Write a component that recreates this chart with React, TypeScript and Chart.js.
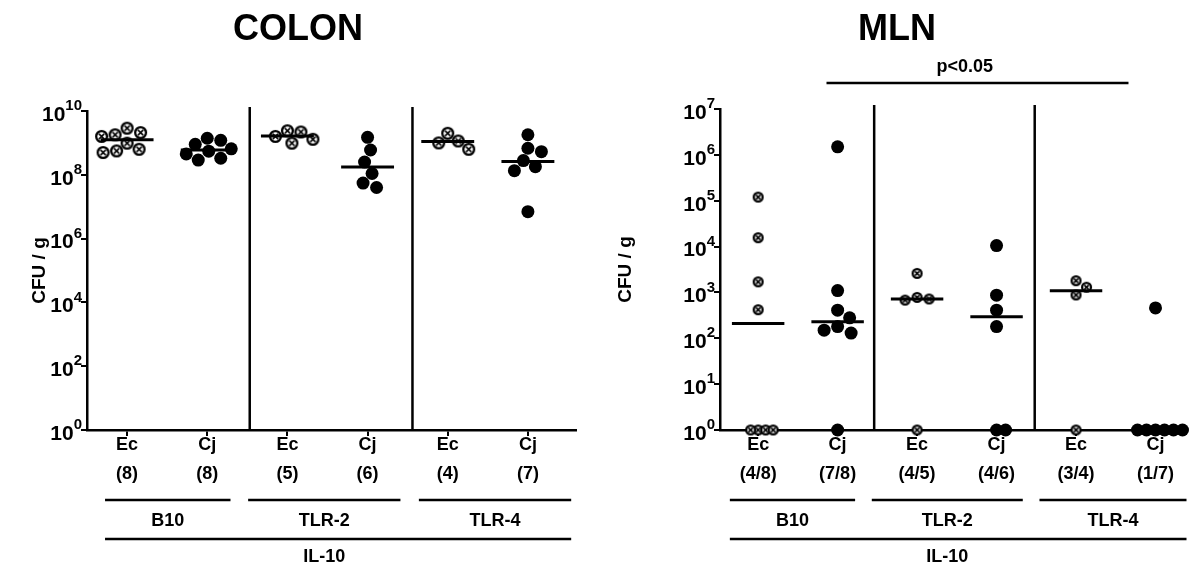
import React, { useEffect, useRef } from "react";
import { Chart, registerables } from "chart.js";
Chart.register(...registerables);

const FONT = "'Liberation Sans', Arial, Helvetica, sans-serif";

// ---------------- data ----------------
const strains = ["Ec", "Cj", "Ec", "Cj", "Ec", "Cj"];
const colonN = ["(8)", "(8)", "(5)", "(6)", "(4)", "(7)"];
const mlnN = ["(4/8)", "(7/8)", "(4/5)", "(4/6)", "(3/4)", "(1/7)"];
const mouseGroups = ["B10", "TLR-2", "TLR-4"];
const background = "IL-10";
const crossedGroups = [true, false, true, false, true, false];
const yAxisTitle = "CFU / g";
const significance = "p<0.05";

const colonB10Ec = [2.9e9, 1.8e9, 2.1e9, 1.6e9, 9.8e8, 6.3e8, 5.0e8, 5.6e8];
const colonB10Cj = [1.4e9, 1.2e9, 9e8, 6.5e8, 5.5e8, 4.5e8, 3.3e8, 2.9e8];
const colonTLR2Ec = [2.4e9, 2.2e9, 1.6e9, 1.3e9, 9.8e8];
const colonTLR2Cj = [1.5e9, 6e8, 2.5e8, 1.1e8, 5.5e7, 4e7];
const colonTLR4Ec = [2e9, 1.15e9, 1e9, 6.3e8];
const colonTLR4Cj = [1.8e9, 6.8e8, 5.3e8, 2.8e8, 1.8e8, 1.35e8, 7e6];
const colonMedians = [1.25e9, 6e8, 1.65e9, 1.75e8, 1.1e9, 2.6e8];
const colonExponents = [0, 2, 4, 6, 8, 10];

const mlnB10Ec = [1.2e5, 1.56e4, 1.7e3, 4.2e2, 1, 1, 1, 1];
const mlnB10Cj = [1.5e6, 1.1e3, 4.1e2, 2.8e2, 1.8e2, 1.5e2, 1.3e2, 1];
const mlnTLR2Ec = [2.6e3, 7.8e2, 7.2e2, 6.8e2, 1];
const mlnTLR2Cj = [1.05e4, 8.7e2, 4.1e2, 1.8e2, 1, 1];
const mlnTLR4Ec = [1.8e3, 1.3e3, 8.8e2, 1];
const mlnTLR4Cj = [4.6e2, 1, 1, 1, 1, 1, 1];
const mlnMedians: (number | null)[] = [210, 230, 720, 295, 1090, null];
const mlnExponents = [0, 1, 2, 3, 4, 5, 6, 7];

// ---------------- panel specs (layout) ----------------
type Spec = {
  title: string;
  titleX: number;
  yTitleX: number;
  groups: number[][];
  medians: (number | null)[];
  counts: string[];
  exps: number[];
  xMin: number;
  xMax: number;
  yWidth: number;
  padTop: number;
  padRight: number;
  canvasWidth: number;
  filledR: number;
  crossR: number;
  swarm: number;
  separators: number[];
  groupSpans: [number, number][];
  outerSpan: [number, number];
  bracket?: { from: number; to: number; textAt: number; y: number };
};

const colonSpec: Spec = {
  title: "COLON",
  titleX: 298,
  yTitleX: 40,
  groups: [colonB10Ec, colonB10Cj, colonTLR2Ec, colonTLR2Cj, colonTLR4Ec, colonTLR4Cj],
  medians: colonMedians,
  counts: colonN,
  exps: colonExponents,
  xMin: -0.5,
  xMax: 5.6,
  yWidth: 87,
  padTop: 111,
  padRight: 19,
  canvasWidth: 595,
  filledR: 6.5,
  crossR: 6.5,
  swarm: 1.0,
  separators: [1.53, 3.56],
  groupSpans: [[-0.275, 1.29], [1.51, 3.41], [3.64, 5.54]],
  outerSpan: [-0.275, 5.54],
};

const mlnSpec: Spec = {
  title: "MLN",
  titleX: 299,
  yTitleX: 28,
  groups: [mlnB10Ec, mlnB10Cj, mlnTLR2Ec, mlnTLR2Cj, mlnTLR4Ec, mlnTLR4Cj],
  medians: mlnMedians,
  counts: mlnN,
  exps: mlnExponents,
  xMin: -0.48,
  xMax: 5.39,
  yWidth: 122,
  padTop: 109,
  padRight: 0,
  canvasWidth: 595,
  filledR: 6.5,
  crossR: 5.5,
  swarm: 1.05,
  separators: [1.46, 3.48],
  groupSpans: [[-0.356, 1.22], [1.43, 3.33], [3.54, 5.39]],
  outerSpan: [-0.356, 5.39],
  bracket: { from: 0.86, to: 4.66, textAt: 2.6, y: 83 },
};

const H = 566;
const X_AXIS_H = 136;

function crossedMarker(r: number): HTMLCanvasElement {
  const s = Math.ceil(2 * r + 4);
  const c = document.createElement("canvas");
  c.width = s;
  c.height = s;
  const g = c.getContext("2d")!;
  const m = s / 2;
  g.beginPath();
  g.arc(m, m, r - 1.1, 0, Math.PI * 2);
  g.fillStyle = "#fff";
  g.fill();
  g.lineWidth = 2.3;
  g.strokeStyle = "#000";
  g.stroke();
  const k = (r - 1) * 0.48;
  g.lineWidth = 1.6;
  g.beginPath();
  g.moveTo(m - k, m - k);
  g.lineTo(m + k, m + k);
  g.moveTo(m + k, m - k);
  g.lineTo(m - k, m + k);
  g.stroke();
  return c;
}

// simple beeswarm layout in pixel space
function swarmOffsets(chart: any, vals: number[], center: number, diam: number, factor: number): number[] {
  const xs = chart.scales.x;
  const ys = chart.scales.y;
  const ppu = xs.getPixelForValue(1) - xs.getPixelForValue(0);
  const order = vals.map((_, i) => i).sort((a, b) => vals[b] - vals[a]);
  const placed: { x: number; y: number }[] = [];
  const out = new Array(vals.length).fill(center);
  for (const i of order) {
    const py = ys.getPixelForValue(vals[i]);
    const d = vals[i] <= 1 ? diam * 0.6 : diam * factor;
    let off = 0;
    for (let k = 0; k < 200; k++) {
      const cand = k === 0 ? 0 : (k % 2 === 1 ? 1 : -1) * Math.ceil(k / 2) * 1.5;
      if (placed.every((p) => Math.hypot(p.x - cand, p.y - py) >= d - 0.01)) {
        off = cand;
        break;
      }
    }
    placed.push({ x: off, y: py });
    out[i] = center + off / ppu;
  }
  return out;
}

function Panel({ spec, left }: { spec: Spec; left: number }) {
  const ref = useRef<HTMLCanvasElement>(null);
  useEffect(() => {
    const canvas = ref.current!;
    const datasets: any[] = [];
    spec.medians.forEach((m, i) => {
      if (m === null) return;
      datasets.push({
        type: "line",
        data: [
          { x: i - 0.33, y: m },
          { x: i + 0.33, y: m },
        ],
        borderColor: "#000",
        borderWidth: 3,
        pointRadius: 0,
        showLine: true,
        order: 0,
        clip: false,
      });
    });
    const pointSets: any[] = [];
    spec.groups.forEach((vals, i) => {
      const crossed = crossedGroups[i];
      const r = crossed ? spec.crossR : spec.filledR;
      const ds = {
        type: "scatter",
        data: vals.map((v) => ({ x: i, y: v })),
        pointStyle: crossed ? crossedMarker(r) : "circle",
        pointRadius: r,
        pointHoverRadius: r,
        backgroundColor: "#000",
        borderColor: "#000",
        borderWidth: 0,
        order: 1,
        clip: false,
      };
      pointSets.push(ds);
      datasets.push(ds);
    });

    const gridCfg = {
      display: true,
      drawOnChartArea: false,
      drawTicks: true,
      tickLength: 6,
      color: "#000",
      lineWidth: 2,
    };
    const borderCfg = { display: true, color: "#000", width: 2.5 };

    const annot = {
      id: "annot",
      afterDraw(c: any) {
        const ctx = c.ctx;
        const xs = c.scales.x;
        const ys = c.scales.y;
        ctx.save();
        ctx.fillStyle = "#000";
        ctx.strokeStyle = "#000";
        // title
        ctx.font = `bold 36px ${FONT}`;
        ctx.textAlign = "center";
        ctx.textBaseline = "middle";
        ctx.fillText(spec.title, spec.titleX, 30);
        // y tick labels 10^n
        for (const e of spec.exps) {
          const py = ys.getPixelForValue(Math.pow(10, e));
          const right = xs.left - 5;
          ctx.textAlign = "right";
          ctx.textBaseline = "middle";
          ctx.font = `bold 15px ${FONT}`;
          const es = String(e);
          const ew = ctx.measureText(es).width;
          ctx.fillText(es, right, py - 5);
          ctx.font = `bold 21px ${FONT}`;
          ctx.fillText("10", right - ew, py + 4);
        }
        // y axis title
        ctx.save();
        ctx.translate(spec.yTitleX, (ys.top + ys.bottom) / 2);
        ctx.rotate(-Math.PI / 2);
        ctx.font = `bold 19px ${FONT}`;
        ctx.textAlign = "center";
        ctx.textBaseline = "middle";
        ctx.fillText(yAxisTitle, 0, 0);
        ctx.restore();
        // separators between mouse groups
        ctx.lineWidth = 2.5;
        for (const b of spec.separators) {
          const px = xs.getPixelForValue(b);
          ctx.beginPath();
          ctx.moveTo(px, ys.top - 4);
          ctx.lineTo(px, ys.bottom);
          ctx.stroke();
        }
        // group underlines + labels
        ctx.font = `bold 18px ${FONT}`;
        ctx.textAlign = "center";
        spec.groupSpans.forEach(([a, b], gi) => {
          const x1 = xs.getPixelForValue(a);
          const x2 = xs.getPixelForValue(b);
          ctx.beginPath();
          ctx.moveTo(x1, 500);
          ctx.lineTo(x2, 500);
          ctx.stroke();
          ctx.fillText(mouseGroups[gi], (x1 + x2) / 2, 521);
        });
        const o1 = xs.getPixelForValue(spec.outerSpan[0]);
        const o2 = xs.getPixelForValue(spec.outerSpan[1]);
        ctx.beginPath();
        ctx.moveTo(o1, 539);
        ctx.lineTo(o2, 539);
        ctx.stroke();
        const mid = spec.groupSpans[1];
        ctx.fillText(background, (xs.getPixelForValue(mid[0]) + xs.getPixelForValue(mid[1])) / 2, 557);
        // significance bracket
        if (spec.bracket) {
          const bk = spec.bracket;
          ctx.beginPath();
          ctx.moveTo(xs.getPixelForValue(bk.from), bk.y);
          ctx.lineTo(xs.getPixelForValue(bk.to), bk.y);
          ctx.stroke();
          ctx.font = `bold 18px ${FONT}`;
          ctx.fillText(significance, xs.getPixelForValue(bk.textAt), bk.y - 16);
        }
        ctx.restore();
      },
    };

    const chart = new Chart(canvas, {
      type: "scatter",
      data: { datasets },
      options: {
        responsive: false,
        animation: false,
        events: [],
        layout: { padding: { top: spec.padTop, right: spec.padRight, left: 0, bottom: 0 } },
        plugins: { legend: { display: false }, tooltip: { enabled: false }, title: { display: false } },
        scales: {
          x: {
            type: "linear",
            min: spec.xMin,
            max: spec.xMax,
            afterBuildTicks: (s: any) => {
              s.ticks = strains.map((_, i) => ({ value: i }));
            },
            afterFit: (s: any) => {
              s.height = X_AXIS_H;
            },
            ticks: {
              callback: (v: any) => {
                const i = Math.round(Number(v));
                return [strains[i], spec.counts[i]];
              },
              font: { family: FONT, size: 18, weight: "bold", lineHeight: 1.62 },
              color: "#000",
              padding: -6,
              maxRotation: 0,
              autoSkip: false,
            },
            grid: gridCfg,
            border: borderCfg,
          },
          y: {
            type: "logarithmic",
            min: 1,
            max: Math.pow(10, spec.exps[spec.exps.length - 1]),
            afterBuildTicks: (s: any) => {
              s.ticks = spec.exps.map((e) => ({ value: Math.pow(10, e) }));
            },
            afterFit: (s: any) => {
              s.width = spec.yWidth;
            },
            ticks: { callback: () => "", autoSkip: false },
            grid: gridCfg,
            border: borderCfg,
          },
        },
      } as any,
      plugins: [annot],
    });

    // spread points horizontally (beeswarm) using the chart's scales
    pointSets.forEach((ds, i) => {
      const vals = spec.groups[i];
      const diam = 2 * (crossedGroups[i] ? spec.crossR : spec.filledR);
      const xs = swarmOffsets(chart, vals, i, diam, spec.swarm);
      ds.data = vals.map((v, k) => ({ x: xs[k], y: v }));
    });
    chart.update();

    return () => chart.destroy();
  }, [spec]);
  return (
    <div style={{ position: "absolute", left, top: 0, width: spec.canvasWidth, height: H }}>
      <canvas ref={ref} width={spec.canvasWidth} height={H} style={{ width: spec.canvasWidth, height: H }} />
    </div>
  );
}

export default function App() {
  return (
    <div style={{ position: "fixed", left: 0, top: 0, width: 1193, height: H, background: "#fff", overflow: "hidden" }}>
      <Panel spec={colonSpec} left={0} />
      <Panel spec={mlnSpec} left={598} />
    </div>
  );
}
